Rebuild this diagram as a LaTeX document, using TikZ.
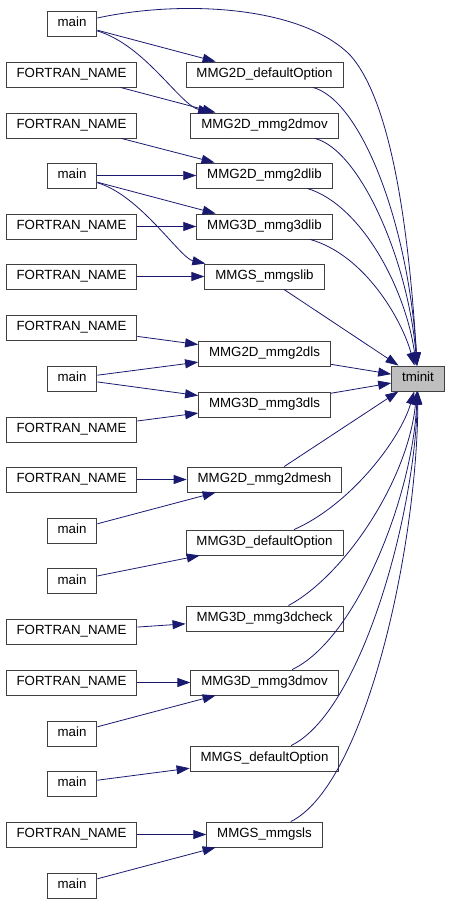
\documentclass[tikz,border=0pt]{standalone}
\usepackage{fontspec}
\setmainfont{Liberation Sans}
\usetikzlibrary{arrows.meta}
\definecolor{edgecol}{HTML}{191970}
\definecolor{boxline}{HTML}{404040}
\definecolor{hlfill}{HTML}{BFBFBF}
\begin{document}
\begin{tikzpicture}[x=1pt,y=-1pt,
  fbox/.style={draw=boxline,fill=white,line width=0.9pt,minimum height=25pt,inner xsep=10.5pt,
    text height=9.7pt,text depth=3pt,font=\fontsize{13.3}{15}\selectfont},
  hbox/.style={fbox,fill=hlfill},
  edge/.style={draw=edgecol,line width=0.8pt,-{Triangle[length=13pt,width=9pt]}}]
\useasboundingbox (0,0) rectangle (451,904);
% left column
\node[fbox] (m1) at (72,23.5) {main};
\node[fbox] (f1) at (71.5,74.5) {FORTRAN\_NAME};
\node[fbox] (f2) at (71.5,125.5) {FORTRAN\_NAME};
\node[fbox] (m2) at (72,175.5) {main};
\node[fbox] (f3) at (71.5,226.5) {FORTRAN\_NAME};
\node[fbox] (f4) at (71.5,276.5) {FORTRAN\_NAME};
\node[fbox] (f5) at (71.5,327.5) {FORTRAN\_NAME};
\node[fbox] (m3) at (72,378.5) {main};
\node[fbox] (f6) at (71.5,429.5) {FORTRAN\_NAME};
\node[fbox] (f7) at (71.5,479.5) {FORTRAN\_NAME};
\node[fbox] (m4) at (72,530.5) {main};
\node[fbox] (m5) at (72,581) {main};
\node[fbox] (f8) at (71.5,631.5) {FORTRAN\_NAME};
\node[fbox] (f9) at (71.5,682.5) {FORTRAN\_NAME};
\node[fbox] (m6) at (72,733.5) {main};
\node[fbox] (m7) at (72,783.5) {main};
\node[fbox] (f10) at (71.5,834.5) {FORTRAN\_NAME};
\node[fbox] (m8) at (72,885.5) {main};
% middle column
\node[fbox] (d2) at (264.5,74.5) {MMG2D\_defaultOption};
\node[fbox] (mov2) at (264.5,125.5) {MMG2D\_mmg2dmov};
\node[fbox] (lib2) at (264.5,175.5) {MMG2D\_mmg2dlib};
\node[fbox] (lib3) at (264.5,226.5) {MMG3D\_mmg3dlib};
\node[fbox] (slib) at (264.5,276.5) {MMGS\_mmgslib};
\node[fbox] (ls2) at (264.5,353.5) {MMG2D\_mmg2dls};
\node[fbox] (ls3) at (264.5,404.5) {MMG3D\_mmg3dls};
\node[fbox] (mesh) at (264.5,479.5) {MMG2D\_mmg2dmesh};
\node[fbox] (d3) at (264.5,542.5) {MMG3D\_defaultOption};
\node[fbox] (chk) at (264.5,618.5) {MMG3D\_mmg3dcheck};
\node[fbox] (mov3) at (264.5,682.5) {MMG3D\_mmg3dmov};
\node[fbox] (sdef) at (264.5,758.5) {MMGS\_defaultOption};
\node[fbox] (sls) at (264.5,834.5) {MMGS\_mmgsls};
% target
\node[hbox] (t) at (418,378.5) {tminit};
% left -> middle
\draw[edge] (m1) -- (d2);
\draw[edge] (m1) .. controls (145,45) and (180,105) .. (mov2);
\draw[edge] (f1) -- (mov2);
\draw[edge] (f2) -- (lib2);
\draw[edge] (m2) -- (lib2);
\draw[edge] (m2) -- (lib3);
\draw[edge] (m2) .. controls (140,195) and (180,258) .. (slib);
\draw[edge] (f3) -- (lib3);
\draw[edge] (f4) -- (slib);
\draw[edge] (f5) -- (ls2);
\draw[edge] (m3) -- (ls2);
\draw[edge] (m3) -- (ls3);
\draw[edge] (f6) -- (ls3);
\draw[edge] (f7) -- (mesh);
\draw[edge] (m4) -- (mesh);
\draw[edge] (m5) -- (d3);
\draw[edge] (f8) -- (chk);
\draw[edge] (f9) -- (mov3);
\draw[edge] (m6) -- (mov3);
\draw[edge] (m7) -- (sdef);
\draw[edge] (f10) -- (sls);
\draw[edge] (m8) -- (sls);
% to tminit
\draw[edge] (m1) .. controls (180,0) and (300,5) .. (350,55) .. controls (395,105) and (410,250) .. (t);
\draw[edge] (d2) .. controls (360,100) and (408,220) .. (t);
\draw[edge] (mov2) .. controls (360,150) and (408,260) .. (t);
\draw[edge] (lib2) .. controls (362,205) and (406,290) .. (t);
\draw[edge] (lib3) .. controls (365,255) and (402,320) .. (t);
\draw[edge] (slib) -- (t);
\draw[edge] (ls2) -- (t);
\draw[edge] (ls3) -- (t);
\draw[edge] (mesh) -- (t);
\draw[edge] (d3) .. controls (350,505) and (400,440) .. (t);
\draw[edge] (chk) .. controls (345,575) and (408,480) .. (t);
\draw[edge] (mov3) .. controls (355,640) and (412,500) .. (t);
\draw[edge] (sdef) .. controls (360,712) and (414,520) .. (t);
\draw[edge] (sls) .. controls (365,785) and (417,550) .. (t);
\end{tikzpicture}
\end{document}
